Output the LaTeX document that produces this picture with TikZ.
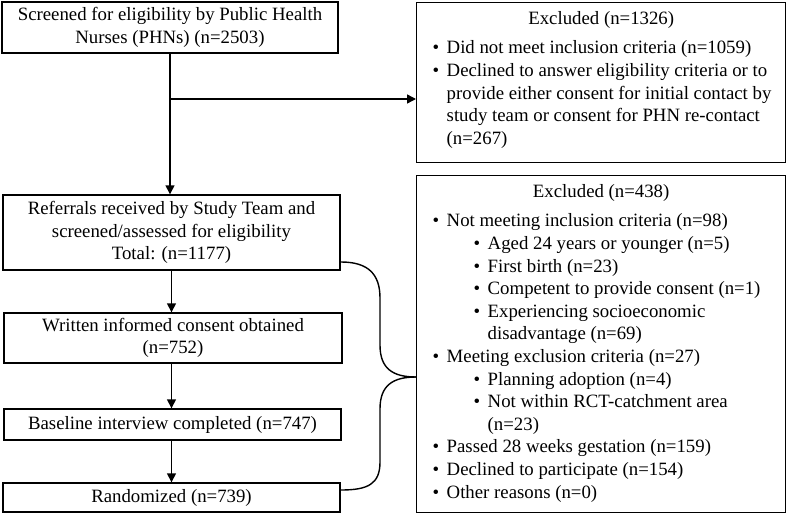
\documentclass[tikz,border=0pt]{standalone}
\usepackage{fontspec}
\setmainfont{Liberation Serif}
\usetikzlibrary{arrows.meta}
\newcommand{\fs}{\fontsize{18.8}{22.6}\selectfont}
\newcommand{\bl}{\makebox[14pt][l]{\textbullet}}
\newcommand{\lone}[1]{\noindent\bl#1\par}
\newcommand{\ltwo}[1]{\noindent\hspace*{41pt}\bl#1\par}
\newcommand{\cont}[2]{\noindent\hspace*{#1}#2\par}
\begin{document}
\begin{tikzpicture}[x=1pt,y=-1pt,
  box/.style={draw, line width=1.4pt, inner sep=0pt, align=center, font=\fs},
  listbox/.style={draw, line width=1.4pt, inner xsep=0pt, inner ysep=9pt, anchor=north west, font=\fs},
  arr/.style={-{Triangle[length=9pt,width=9pt]}, line width=1.4pt},
  ln/.style={line width=1.4pt}]
\useasboundingbox (0,0) rectangle (787,514);

\node[box, minimum width=336pt, minimum height=51pt] (s1) at (170,27.5)
  {Screened for eligibility by Public Health\\Nurses (PHNs) (n=2503)};
\node[box, minimum width=337pt, minimum height=75pt] (s2) at (171.5,232.5)
  {Referrals received by Study Team and\\screened/assessed for eligibility\\Total: (n=1177)};
\node[box, minimum width=338pt, minimum height=50pt] (s3) at (173,338)
  {Written informed consent obtained\\(n=752)};
\node[box, minimum width=337pt, minimum height=31pt] (s4) at (172.5,424.5)
  {Baseline interview completed (n=747)};
\node[box, minimum width=337pt, minimum height=29pt] (s5) at (171.5,497.5)
  {Randomized (n=739)};

\node[listbox] (e1) at (416,2) {%
\begin{minipage}[t][142pt][t]{369pt}\fs
\centering Excluded (n=1326)\par
\vspace{6.5pt}\raggedright\leftskip=16pt
\lone{Did not meet inclusion criteria (n=1059)}
\lone{Declined to answer eligibility criteria or to}
\cont{14pt}{provide either consent for initial contact by}
\cont{14pt}{study team or consent for PHN re-contact}
\cont{14pt}{(n=267)}
\end{minipage}};

\node[listbox] (e2) at (416,175) {%
\begin{minipage}[t][319pt][t]{369pt}\fs
\centering Excluded (n=438)\par
\vspace{6.5pt}\raggedright\leftskip=16pt
\lone{Not meeting inclusion criteria (n=98)}
\ltwo{Aged 24 years or younger (n=5)}
\ltwo{First birth (n=23)}
\ltwo{Competent to provide consent (n=1)}
\ltwo{Experiencing socioeconomic}
\cont{55pt}{disadvantage (n=69)}
\lone{Meeting exclusion criteria (n=27)}
\ltwo{Planning adoption (n=4)}
\ltwo{Not within RCT-catchment area}
\cont{55pt}{(n=23)}
\lone{Passed 28 weeks gestation (n=159)}
\lone{Declined to participate (n=154)}
\lone{Other reasons (n=0)}
\end{minipage}};

\coordinate (j) at (170,99);
\draw[arr] (s1.south) -- (s1.south |- s2.north);
\draw[arr] (j) -- (j -| e1.west);
\draw[arr] (s2.south) -- (s2.south |- s3.north);
\draw[arr] (s3.south -| s2.south) -- (s2.south |- s4.north);
\draw[arr] (s4.south -| s2.south) -- (s2.south |- s5.north);

\coordinate (b1) at (341,262);
\coordinate (b2) at (341,490);
\coordinate (bt) at (416,377);
\draw[ln] (b1) .. controls (368,262) and (380,274) .. (380,298)
  -- (380,345) .. controls (380,368) and (392,377) .. (bt);
\draw[ln] (bt) .. controls (392,377) and (380,386) .. (380,409)
  -- (380,462) .. controls (380,484) and (368,490) .. (b2);
\end{tikzpicture}
\end{document}
